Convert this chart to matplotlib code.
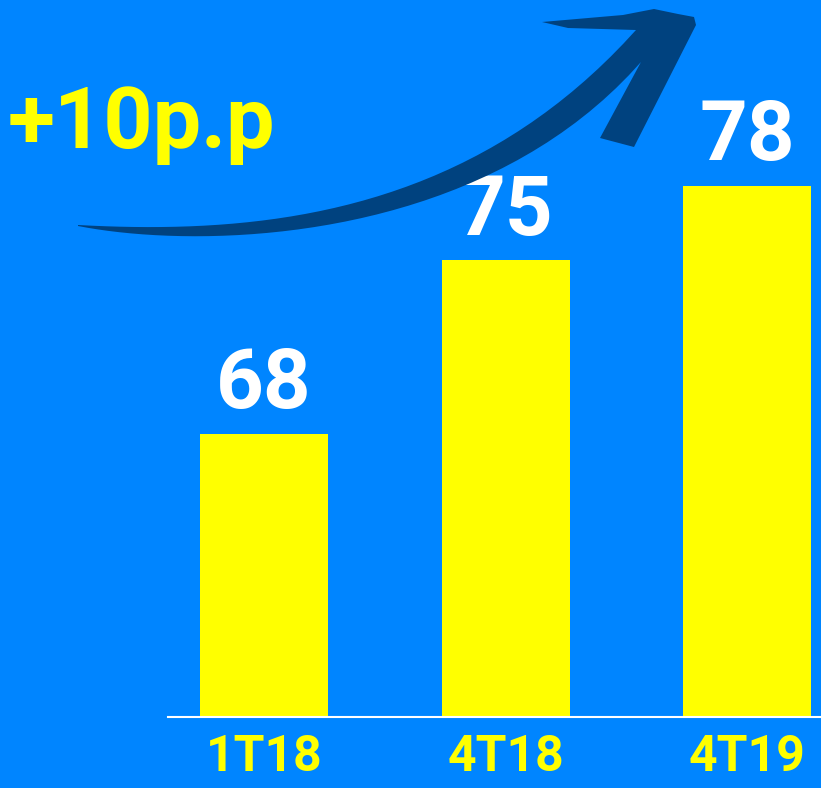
import matplotlib
matplotlib.use("Agg")
import matplotlib.pyplot as plt
from matplotlib.path import Path
from matplotlib.patches import PathPatch

# datos
categorias = ["1T18", "4T18", "4T19"]
valores = [68, 75, 78]
variacion = "+10p.p"

FONDO = "#0085FF"
AMARILLO = "#FFFF00"
FLECHA = "#00427F"
fuente = ["Roboto", "DejaVu Sans"]

W, H = 821, 788
fig = plt.figure(figsize=(W / 100, H / 100), dpi=100, facecolor=FONDO)

ax = fig.add_axes([168 / W, 1 - 717 / H, 1 - 168 / W, 717 / H])
ax.set_facecolor(FONDO)
x = list(range(len(categorias)))
ax.bar(x, valores, width=0.53, color=AMARILLO, zorder=2)
ax.set_xlim(-0.398, 2.306)
ax.set_ylim(56.58, 85.48)

for xi, v in zip(x, valores):
    ax.annotate(str(v), (xi, v), xytext=(0, 6), textcoords="offset points",
                ha="center", va="bottom", color="white", fontsize=60,
                fontweight="bold", family=fuente)

ax.set_xticks(x)
ax.set_xticklabels(categorias, color=AMARILLO, fontsize=36, fontweight="bold",
                   family=fuente)
ax.tick_params(axis="x", length=0, pad=12)
ax.set_yticks([])
for s in ["top", "left", "right"]:
    ax.spines[s].set_visible(False)
ax.spines["bottom"].set_color("white")
ax.spines["bottom"].set_linewidth(1.5)

# flecha curva (coordenadas en pixeles de la figura, y hacia abajo)
def bez(p0, p1, p2, p3, n=40):
    pts = []
    for i in range(n + 1):
        t = i / n
        a, b, c, d = (1 - t) ** 3, 3 * t * (1 - t) ** 2, 3 * t * t * (1 - t), t ** 3
        pts.append((a * p0[0] + b * p1[0] + c * p2[0] + d * p3[0],
                    a * p0[1] + b * p1[1] + c * p2[1] + d * p3[1]))
    return pts

arriba = bez((78, 225), (260, 235), (470, 215), (636, 30))
abajo = bez((78, 226), (200, 250), (480, 245), (641, 62))
cabeza = [(568, 28), (542, 22), (623, 15), (654, 9), (678, 14), (694, 17),
          (696, 25), (634, 147), (600, 138)]
contorno = arriba + cabeza + abajo[::-1]
contorno = [(px / W, 1 - py / H) for px, py in contorno]
fig.patches.append(PathPatch(Path(contorno + [contorno[0]]), facecolor=FLECHA,
                             edgecolor="none", transform=fig.transFigure))

fig.text(8 / W, 1 - 148 / H, variacion, color=AMARILLO, fontsize=62,
         fontweight="bold", family=fuente, ha="left", va="baseline")

fig.savefig("out.png", dpi=100, facecolor=FONDO)
